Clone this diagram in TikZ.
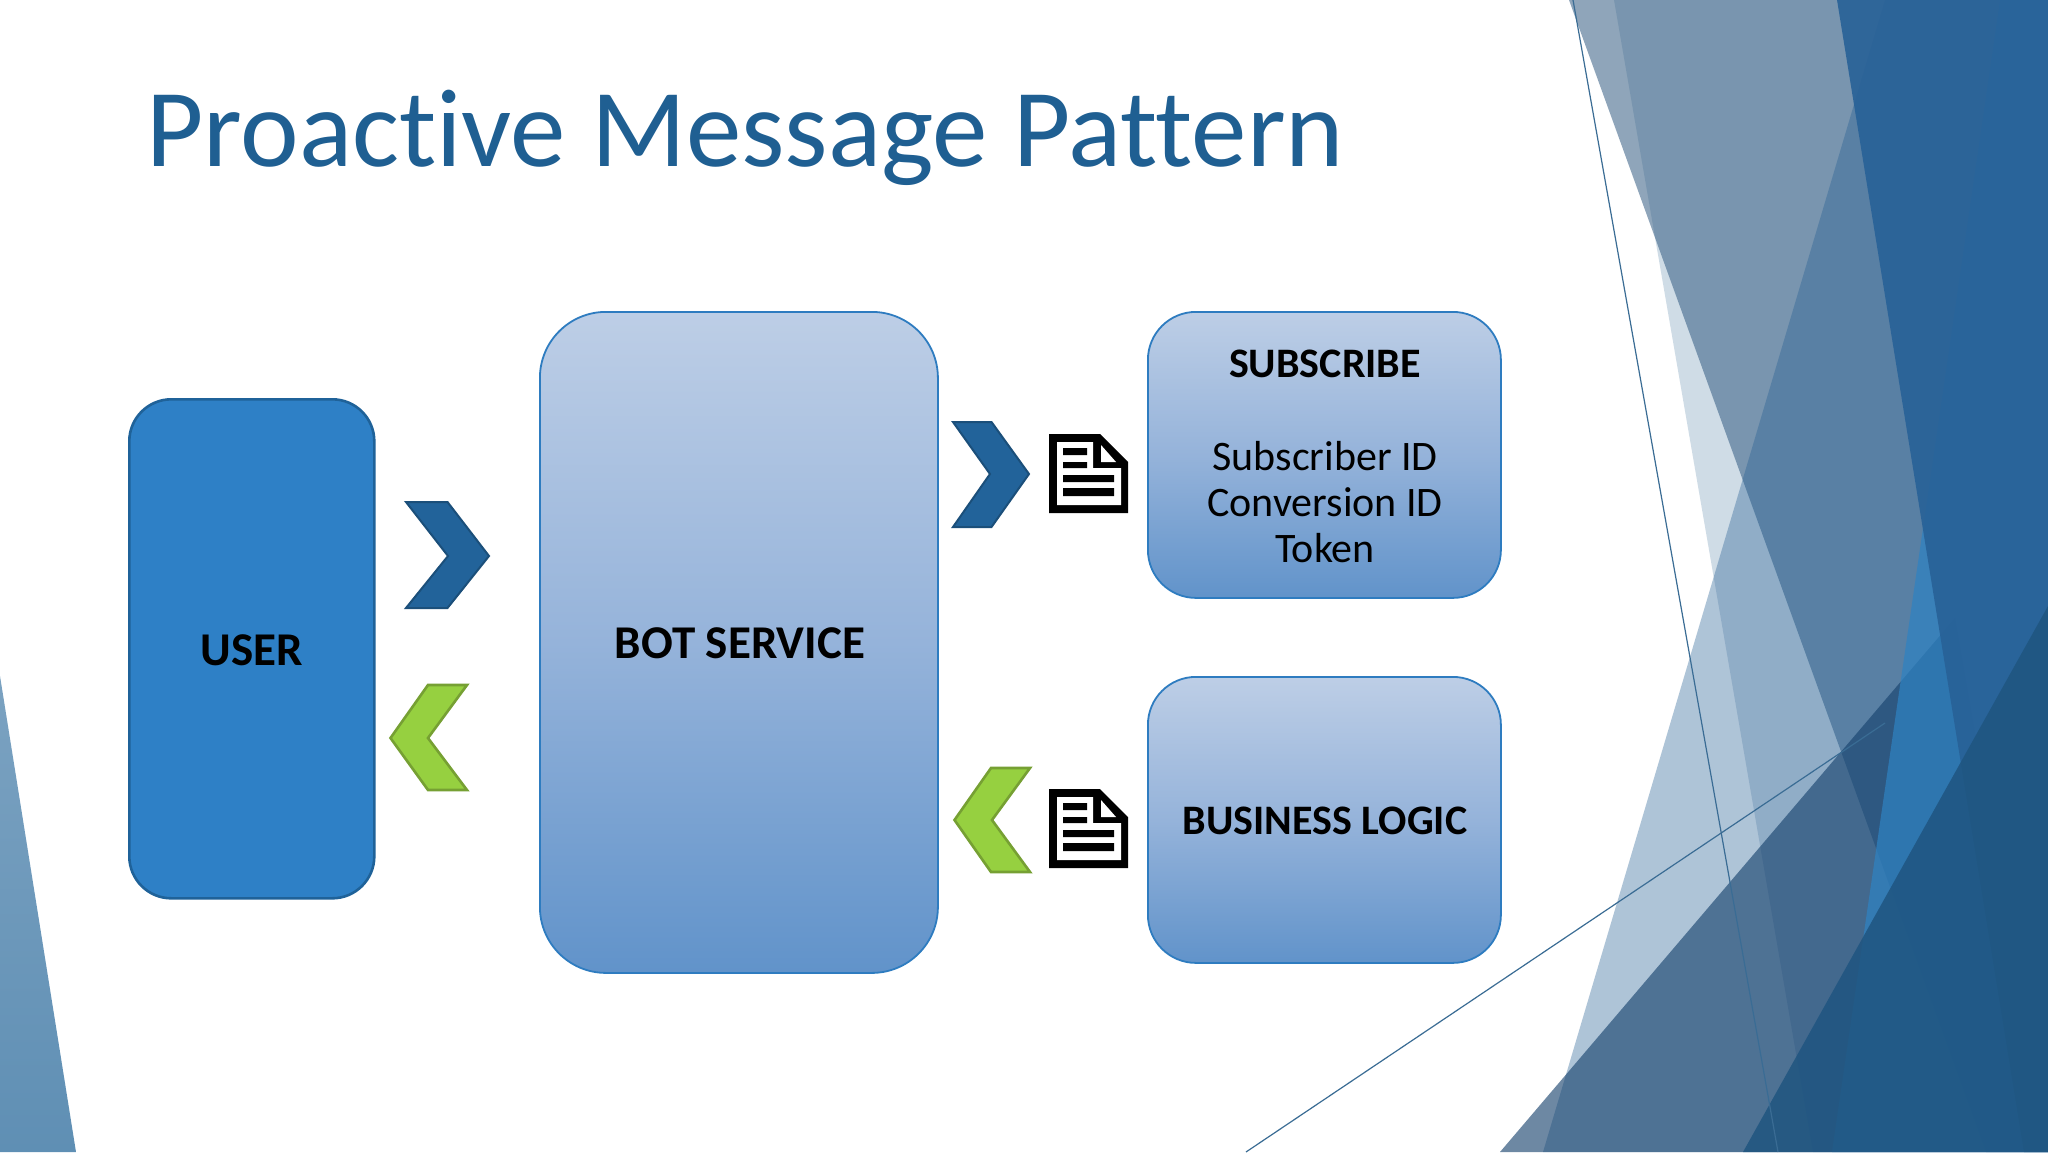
\documentclass[tikz,border=0pt]{standalone}
\usepackage{fontspec}
\setmainfont{Carlito}[Ligatures=NoCommon]
\definecolor{titleblue}{HTML}{1F5F92}
\definecolor{boxtop}{HTML}{BDCEE6}
\definecolor{boxmid}{HTML}{95B3DA}
\definecolor{boxbot}{HTML}{6193CA}
\definecolor{boxline}{HTML}{2E7CC0}
\definecolor{userfill}{HTML}{2E80C6}
\definecolor{userline}{HTML}{1F6299}
\definecolor{chevblue}{HTML}{22639A}
\definecolor{chevblueline}{HTML}{1B4F7A}
\definecolor{chevgreen}{HTML}{96D040}
\definecolor{chevgreenline}{HTML}{76A033}
\definecolor{facetband}{RGB}{31,90,138}
\definecolor{facetgray}{RGB}{51,92,130}
\definecolor{facettri}{RGB}{33,92,145}
\definecolor{facetdark}{RGB}{20,64,108}
\definecolor{facetbright}{RGB}{47,130,194}
\definecolor{facetdeep}{RGB}{40,97,151}
\definecolor{facetnavy}{RGB}{31,85,128}
\definecolor{facetline}{RGB}{58,108,148}
\definecolor{lefttop}{HTML}{7BA2C1}
\definecolor{leftbot}{HTML}{5F8FB4}
\tikzset{
  x=1pt,y=-1pt,
  gradbox/.style={draw=boxline,line width=1.8pt,top color=boxtop,bottom color=boxbot,middle color=boxmid,anchor=north west,inner sep=0pt,align=center,text=black},
  userbox/.style={draw=userline,line width=2.6pt,fill=userfill,anchor=north west,inner sep=0pt,align=center,text=black},
  boxlabel/.style={font=\fontsize{47}{47}\selectfont\bfseries,text=black},
  chevb/.style={fill=chevblue,draw=chevblueline,line width=2pt,line join=miter},
  chevg/.style={fill=chevgreen,draw=chevgreenline,line width=2.6pt,line join=miter},
  thinline/.style={draw=facetline,line width=1.2pt},
  docicon/.pic={
    \fill[black] (0,0)--(51,0)--(79,28)--(79,79)--(0,79)--cycle;
    \fill[white] (8,8)--(44,8)--(44,34)--(72,34)--(72,71)--(8,71)--cycle;
    \fill[white] (52,11)--(52,28)--(67,28)--cycle;
    \fill[black] (14,14) rectangle (38,21) (14,28) rectangle (38,34) (14,41) rectangle (65,48) (14,54) rectangle (65,62);
  }
}
\begin{document}
\begin{tikzpicture}
\useasboundingbox (0,0) rectangle (2048,1152);
\fill[white] (0,0) rectangle (2048,1152);
% background facets
\fill[facetband,opacity=.21] (1614,0)--(2048,0)--(2048,1152)--(1813,1152)--cycle;
\fill[facetgray,opacity=.55] (1569,0)--(2048,0)--(2048,1152)--(1986,1152)--cycle;
\fill[facettri,opacity=.36] (1885,0)--(2048,0)--(2048,1152)--(1543,1152)--cycle;
\fill[facetdark,opacity=.62] (1500,1152)--(1955,618)--(2048,1152)--cycle;
\fill[facetbright,opacity=.72] (2000,0)--(2048,0)--(2048,1152)--(1832,1152)--cycle;
\fill[facetdeep,opacity=.9] (1837,0)--(2048,0)--(2048,1152)--(2024,1152)--cycle;
\fill[facetnavy,opacity=.85] (2048,606)--(2048,1152)--(1743,1152)--cycle;
\draw[thinline] (1573,0)--(1778,1152);
\draw[thinline] (1246,1152)--(1885,723);
\shade[top color=lefttop,bottom color=leftbot] (0,676)--(76,1152)--(0,1152)--cycle;
% title
\node[anchor=west,inner sep=0pt,text=titleblue,font=\fontsize{111}{111}\selectfont] (title) at (146,138) {Proactive Message Pattern};
% boxes
\node[userbox,rounded corners=42pt,minimum width=245pt,minimum height=499pt] (user) at (128,398) {};
\node[boxlabel] (userlabel) at (252,650) {USER};
\node[gradbox,rounded corners=66pt,minimum width=398pt,minimum height=661pt] (bot) at (539,311) {};
\node[boxlabel] (botlabel) at (740,643) {BOT SERVICE};
\node[gradbox,rounded corners=48pt,minimum width=353pt,minimum height=286pt] (sub) at (1147,311) {};
\node[font=\fontsize{42}{42}\selectfont\bfseries] (subhead) at (1325,364) {SUBSCRIBE};
\node[font=\fontsize{42}{46}\selectfont,align=center,anchor=north] (subtext) at (1325,438) {Subscriber ID\\Conversion ID\\Token};
\node[gradbox,rounded corners=48pt,minimum width=353pt,minimum height=286pt] (logic) at (1147,676) {};
\node[font=\fontsize{42}{42}\selectfont\bfseries] (logiclabel) at (1325,821) {BUSINESS LOGIC};
% chevrons
\draw[chevb] (406,502)--(447.5,502)--(489,556)--(447.5,608)--(406,608)--(448,556)--cycle;
\draw[chevg] (467,685)--(428,685)--(390.5,738)--(428,790)--(467,790)--(428,738)--cycle;
\draw[chevb] (953,422)--(991.5,422)--(1029,474)--(991.5,527)--(953,527)--(990,474)--cycle;
\draw[chevg] (1030,768)--(991,768)--(954.5,820)--(991,872)--(1030,872)--(992,820)--cycle;
% documents
\pic at (1049,434) {docicon};
\pic at (1049,789) {docicon};
\end{tikzpicture}
\end{document}
